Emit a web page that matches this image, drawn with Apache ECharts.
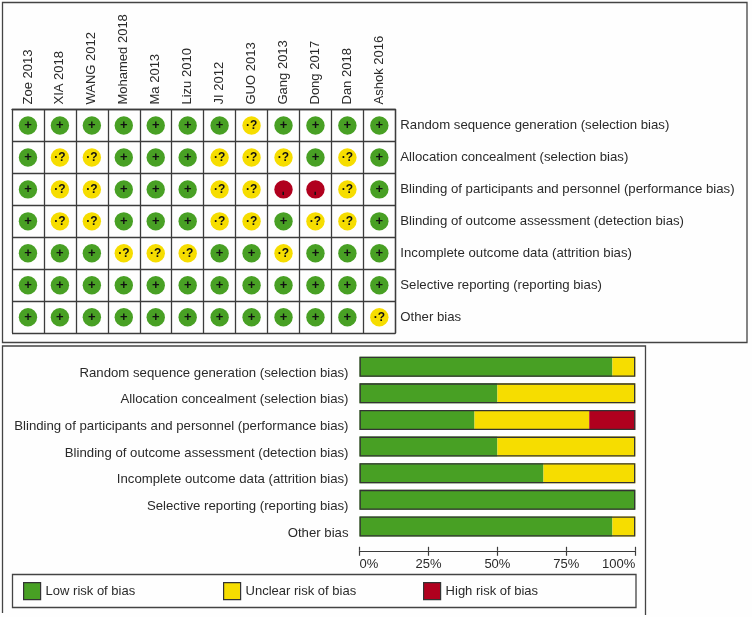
<!DOCTYPE html>
<html>
<head>
<meta charset="utf-8">
<style>html,body{margin:0;padding:0;background:#fefefe}#c{width:752px;height:617px}</style>
<script src="https://cdn.jsdelivr.net/npm/echarts@6/dist/echarts.min.js"></script>
</head>
<body>
<div id="c"></div>
<script>
const studies = ['Zoe 2013','XIA 2018','WANG 2012','Mohamed 2018','Ma 2013','Lizu 2010','JI 2012','GUO 2013','Gang 2013','Dong 2017','Dan 2018','Ashok 2016'];
const domains = ['Random sequence generation (selection bias)','Allocation concealment (selection bias)','Blinding of participants and personnel (performance bias)','Blinding of outcome assessment (detection bias)','Incomplete outcome data (attrition bias)','Selective reporting (reporting bias)','Other bias'];
// one string per domain, one character per study: + low, ? unclear, - high
const judgements = [
  '+++++++?++++',
  '+??+++???+?+',
  '+??+++??--?+',
  '+??+++??+??+',
  '+++???++?+++',
  '++++++++++++',
  '+++++++++++?'
];
const lowPct     = [91.7, 50, 41.7, 50, 66.7, 100, 91.7];
const unclearPct = [8.3, 50, 41.6, 50, 33.3, 0, 8.3];
const highPct    = [0, 0, 16.7, 0, 0, 0, 0];
const outlinePct = [100, 100, 100, 100, 100, 100, 100];
const axisTicks  = [0, 25, 50, 75, 100];
const levels = ['Low risk of bias','Unclear risk of bias','High risk of bias'];
const colors = ['#48a024','#f6dd00','#b0001e'];
const marks  = ['+','?','-'];

const ink = '#2a2a2a', line = '#3c3c3c', font = '"Liberation Sans", Arial, sans-serif';

function pointsFor(mark) {
  const out = [];
  judgements.forEach((row, r) => row.split('').forEach((m, c) => {
    if (m === mark) out.push([studies[c], domains[r]]);
  }));
  return out;
}

const dotSeries = marks.map((m, i) => ({
  name: levels[i], type: 'scatter', xAxisIndex: 0, yAxisIndex: 0,
  symbol: 'circle', symbolSize: 18.4, data: pointsFor(m),
  itemStyle: {color: colors[i], opacity: 1},
  silent: true,
  label: {
    show: true, position: 'inside', formatter: m === '?' ? '·?' : m,
    color: '#111', fontFamily: font, fontWeight: 'bold',
    fontSize: m === '+' ? 13 : m === '?' ? 12 : 13,
    rotate: m === '-' ? 90 : 0,
    offset: m === '-' ? [-4, 0] : [0, 0]
  }
}));

const barValues = [lowPct, unclearPct, highPct];
const barSeries = barValues.map((v, i) => ({
  name: levels[i], type: 'bar', stack: 'risk', xAxisIndex: 1, yAxisIndex: 1,
  barWidth: 20, data: v, itemStyle: {color: colors[i]}, silent: true
}));
const outlineSeries = {
  name: 'outline', type: 'bar', xAxisIndex: 1, yAxisIndex: 1, barWidth: 20, barGap: '-100%',
  data: outlinePct, z: 5, silent: true,
  itemStyle: {color: 'rgba(0,0,0,0)', borderColor: '#333', borderWidth: 1.3}
};

function legendAt(i, left) {
  return {
    left, top: 582, padding: 0, orient: 'horizontal', selectedMode: false,
    itemWidth: 17, itemHeight: 17,
    textStyle: {color: ink, fontFamily: font, fontSize: 13},
    data: [{name: levels[i], icon: 'rect', itemStyle: {color: colors[i], opacity: 1, borderColor: '#333', borderWidth: 1.2}}]
  };
}

const option = {
  animation: false,
  backgroundColor: '#fefefe',
  textStyle: {fontFamily: font},
  legend: [legendAt(0, 23), legendAt(1, 223), legendAt(2, 423)],
  grid: [
    {left: 12, top: 109.5, width: 383.3, height: 223.7, show: false},
    {left: 359.5, top: 353.4, width: 275.8, height: 186.4, show: false}
  ],
  xAxis: [
    {gridIndex: 0, type: 'category', position: 'top', data: studies,
     axisLine: {show: true, lineStyle: {color: line, width: 1.3}}, axisTick: {show: false},
     splitLine: {show: true, lineStyle: {color: line, width: 1.3}},
     axisLabel: {rotate: -90, interval: 0, margin: 5, color: ink, fontFamily: font, fontSize: 13}},
    {gridIndex: 1, type: 'value', min: 0, max: 100, interval: 25, position: 'bottom', offset: 11,
     axisLine: {show: true, onZero: false, lineStyle: {color: line, width: 1.2}},
     axisTick: {show: true, length: 5, lineStyle: {color: line, width: 1.2}},
     splitLine: {show: false},
     axisLabel: {margin: 7, color: ink, fontFamily: font, fontSize: 13,
       alignMinLabel: 'left', alignMaxLabel: 'right',
       customValues: axisTicks, formatter: v => v + '%'}},
    {gridIndex: 1, type: 'value', min: 0, max: 100, interval: 25, position: 'bottom', offset: 11,
     axisLine: {show: false, onZero: false},
     axisTick: {show: true, inside: true, length: 4, lineStyle: {color: line, width: 1.2}},
     splitLine: {show: false}, axisLabel: {show: false}}
  ],
  yAxis: [
    {gridIndex: 0, type: 'category', position: 'right', inverse: true, data: domains,
     axisLine: {show: true, lineStyle: {color: line, width: 1.3}}, axisTick: {show: false},
     splitLine: {show: true, lineStyle: {color: line, width: 1.3}},
     axisLabel: {interval: 0, margin: 5, color: ink, fontFamily: font, fontSize: 13.2}},
    {gridIndex: 1, type: 'category', position: 'left', inverse: true, data: domains,
     axisLine: {show: false}, axisTick: {show: false}, splitLine: {show: false},
     axisLabel: {interval: 0, margin: 11, color: ink, fontFamily: font, fontSize: 13.2, verticalAlign: 'top'}}
  ],
  graphic: [
    {type: 'rect', silent: true, shape: {x: 2.5, y: 2.5, width: 744.5, height: 340},
     style: {fill: 'none', stroke: '#444', lineWidth: 1.3}},
    {type: 'polyline', silent: true, shape: {points: [[2.5, 613], [2.5, 346], [645.5, 346], [645.5, 615]]},
     style: {fill: 'none', stroke: '#444', lineWidth: 1.3}},
    {type: 'rect', silent: true, shape: {x: 12.5, y: 574.5, width: 623.5, height: 33},
     style: {fill: 'none', stroke: '#444', lineWidth: 1.3}}
  ],
  series: [...dotSeries, ...barSeries, outlineSeries]
};
echarts.init(document.getElementById('c'), null, {renderer: 'canvas'}).setOption(option);
</script>
</body>
</html>
